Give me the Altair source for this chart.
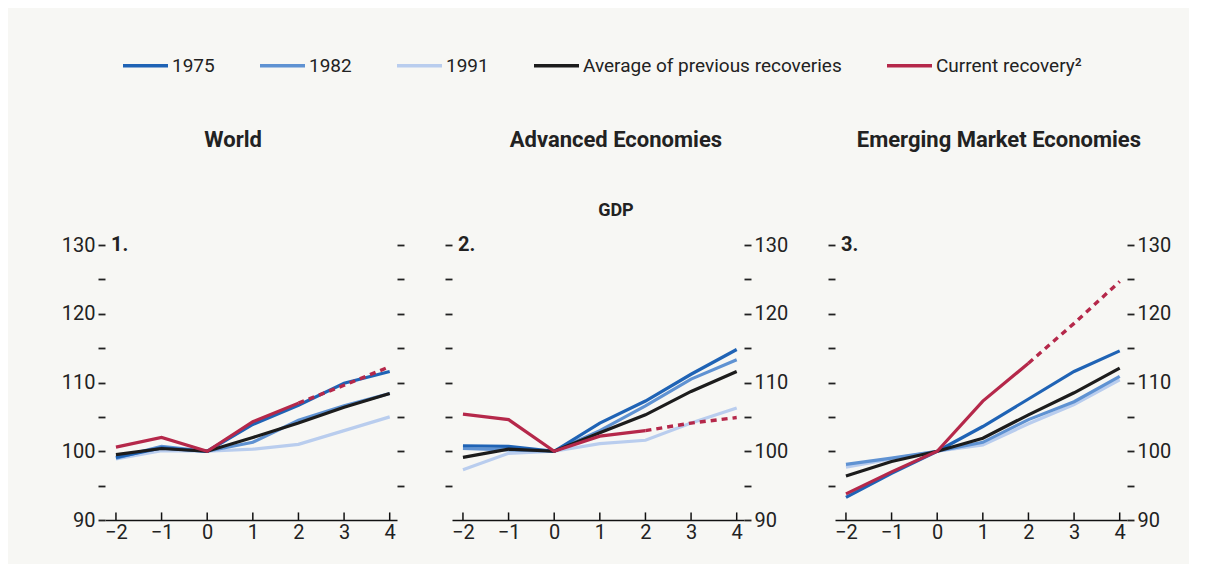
import altair as alt
import pandas as pd

x_vals = [-2, -1, 0, 1, 2, 3, 4]

series_names = ["1991", "1982", "1975", "Average of previous recoveries", "Current recovery²"]
legend_order = ["1975", "1982", "1991", "Average of previous recoveries", "Current recovery²"]
colors = ["#1f63b5", "#5f92d2", "#b9cdee", "#1c1c1c", "#b5284a"]

world_1975 = [99.1, 100.5, 100, 103.9, 106.7, 109.9, 111.6]
world_1982 = [99.0, 100.7, 100, 101.3, 104.5, 106.6, 108.4]
world_1991 = [98.9, 100.1, 100, 100.3, 101.0, 103.0, 105.0]
world_avg = [99.5, 100.4, 100, 102.0, 104.1, 106.4, 108.4]
world_cur = [100.6, 102.0, 100, 104.3, 107.0, 109.6, 112.3]

adv_1975 = [100.8, 100.7, 100, 104.1, 107.3, 111.2, 114.8]
adv_1982 = [100.4, 100.2, 100, 103.0, 106.6, 110.5, 113.3]
adv_1991 = [97.3, 99.7, 100, 101.1, 101.6, 104.1, 106.3]
adv_avg = [99.1, 100.3, 100, 102.7, 105.3, 108.7, 111.6]
adv_cur = [105.4, 104.6, 100, 102.2, 103.0, 104.1, 104.9]

em_1975 = [93.3, 96.8, 100, 103.6, 107.6, 111.6, 114.6]
em_1982 = [98.1, 99.0, 100, 101.3, 104.6, 107.2, 110.9]
em_1991 = [97.7, 98.9, 100, 100.9, 104.0, 106.8, 110.4]
em_avg = [96.4, 98.5, 100, 101.9, 105.3, 108.5, 112.1]
em_cur = [93.8, 97.0, 100, 107.3, 112.8, 118.6, 124.7]

panels = [
    ("World", " ", "1.", "left",
     [world_1991, world_1982, world_1975, world_avg, world_cur]),
    ("Advanced Economies", "GDP", "2.", "right",
     [adv_1991, adv_1982, adv_1975, adv_avg, adv_cur]),
    ("Emerging Market Economies", " ", "3.", "right",
     [em_1991, em_1982, em_1975, em_avg, em_cur]),
]

FONT = "Roboto"

color_scale = alt.Scale(domain=legend_order, range=colors)


def make_panel(title, subtitle, num, label_side, data_lists, show_legend):
    rows = []
    for name, vals in zip(series_names, data_lists):
        for xv, yv in zip(x_vals, vals):
            rows.append({"x": xv, "y": yv, "series": name})
    df = pd.DataFrame(rows)

    xenc = alt.X("x:Q", scale=alt.Scale(domain=[-2.24, 4.16], nice=False, zero=False),
                 axis=alt.Axis(values=x_vals, ticks=False, grid=False, title=None,
                               domainColor="#111", domainWidth=1.5, labelFontSize=20,
                               labelColor="#222", labelPadding=2, labelFont=FONT))
    yscale = alt.Scale(domain=[90, 130], nice=False, zero=False)
    lab_axis = alt.Axis(values=list(range(90, 131, 5)), orient=label_side, domain=False,
                        grid=False, title=None, tickSize=7, tickWidth=1.8, tickColor="#222",
                        labelExpr="datum.value % 10 == 0 ? datum.label : ''",
                        labelFontSize=20, labelColor="#222", labelPadding=3, labelFont=FONT)
    other_side = "right" if label_side == "left" else "left"
    tick_axis = alt.Axis(values=list(range(95, 131, 5)), orient=other_side, domain=False,
                         grid=False, title=None, tickSize=7, tickWidth=1.8, tickColor="#222",
                         labels=False)
    yenc = alt.Y("y:Q", scale=yscale, axis=lab_axis)

    legend = alt.Legend(title=None, orient="none", direction="horizontal",
                        legendX=16, legendY=-204, symbolType="stroke",
                        symbolSize=2025, symbolStrokeWidth=3.5, labelFontSize=19,
                        labelFont=FONT, labelColor="#222", columnPadding=38,
                        labelOffset=2, labelLimit=0) if show_legend else None
    cenc = alt.Color("series:N", scale=color_scale, legend=legend, sort=legend_order)

    solid = alt.Chart(df).transform_filter(
        f"datum.series != '{series_names[4]}' || datum.x <= 2"
    ).mark_line(strokeWidth=3.2).encode(x=xenc, y=yenc, color=cenc, detail="series:N")
    dashed = alt.Chart(df).transform_filter(
        f"datum.series == '{series_names[4]}' && datum.x >= 2"
    ).mark_line(strokeWidth=3.4, strokeDash=[6, 5]).encode(x=xenc, y=yenc, color=cenc)

    tick_df = pd.DataFrame({"x": x_vals, "y0": [90] * 7, "y1": [91.1] * 7})
    xticks = alt.Chart(tick_df).mark_rule(color="#111", strokeWidth=1.5).encode(
        x=xenc, y=alt.Y("y0:Q", scale=yscale, axis=lab_axis), y2="y1:Q")

    num_df = pd.DataFrame({"x": [-2.24], "y": [130], "t": [num]})
    numtxt = alt.Chart(num_df).mark_text(align="left", baseline="middle", dx=6,
                                         fontSize=20, fontWeight="bold", font=FONT,
                                         color="#222").encode(
        x=xenc, y=alt.Y("y:Q", scale=yscale, axis=lab_axis), text="t:N")

    main = alt.layer(solid, dashed, xticks, numtxt)

    ghost = alt.Chart(num_df).mark_point(opacity=0).encode(
        x=xenc, y=alt.Y("y:Q", scale=yscale, axis=tick_axis))

    return alt.layer(main, ghost).resolve_scale(y="independent").properties(
        width=292, height=275,
        title=alt.TitleParams(text=title, subtitle=subtitle, fontSize=22, font=FONT,
                              fontWeight="bold", color="#222", subtitleFont=FONT,
                              subtitleFontSize=18, subtitleFontWeight="bold",
                              subtitleColor="#222", subtitlePadding=50, offset=14,
                              anchor="middle", frame="bounds")
    )


charts = [make_panel(t, s, n, side, d, i == 0) for i, (t, s, n, side, d) in enumerate(panels)]

chart = alt.hconcat(*charts, spacing=39).properties(
    background="#f7f7f4",
    padding={"left": 53, "top": 33, "right": 18, "bottom": 22},
).configure_view(stroke=None).configure_axis(labelFont=FONT)

chart.save("out.html", embed_options={"renderer": "svg", "actions": False})
